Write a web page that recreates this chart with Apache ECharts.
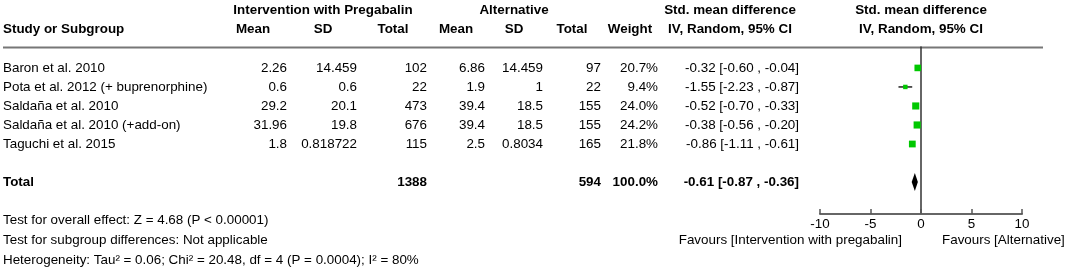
<!DOCTYPE html>
<html>
<head>
<meta charset="utf-8">
<script src="https://cdn.jsdelivr.net/npm/echarts@6/dist/echarts.min.js"></script>
<style>
html, body { margin: 0; padding: 0; background: #fff; }
#main { width: 1065px; height: 269px; }
</style>
</head>
<body>
<div id="main"></div>
<script>
var studies = ['Baron et al. 2010', 'Pota et al. 2012 (+ buprenorphine)', 'Saldaña et al. 2010',
               'Saldaña et al. 2010 (+add-on)', 'Taguchi et al. 2015'];
var intMean = [2.26, 0.6, 29.2, 31.96, 1.8];
var intSD = [14.459, 0.6, 20.1, 19.8, 0.818722];
var intTotal = [102, 22, 473, 676, 115];
var altMean = [6.86, 1.9, 39.4, 39.4, 2.5];
var altSD = [14.459, 1, 18.5, 18.5, 0.8034];
var altTotal = [97, 22, 155, 155, 165];
var weight = [20.7, 9.4, 24.0, 24.2, 21.8];
var smd = [-0.32, -1.55, -0.52, -0.38, -0.86];
var ciLo = [-0.60, -2.23, -0.70, -0.56, -1.11];
var ciHi = [-0.04, -0.87, -0.33, -0.20, -0.61];
// pooled result
var totalInt = 1388, totalAlt = 594, totalWeight = 100.0;
var totalSmd = -0.61, totalLo = -0.87, totalHi = -0.36;
var totalRow = 6;
var xTicks = [-10, -5, 0, 5, 10];

var font = '"Liberation Sans", Arial, sans-serif';
var fs = 13.4;
var chart = echarts.init(document.getElementById('main'));

var ciData = smd.map(function (v, i) { return [ciLo[i], ciHi[i], i]; });
var pointData = smd.map(function (v, i) { return [v, i, weight[i]]; });

option = {
    animation: false,
    grid: { left: 820, width: 202, top: 47, height: 167 },
    xAxis: {
        type: 'value', min: xTicks[0], max: xTicks[xTicks.length - 1], interval: 5,
        axisLine: { onZero: false, lineStyle: { color: '#666', width: 2 } },
        axisTick: { inside: true, length: 5, lineStyle: { color: '#555', width: 1.5 } },
        axisLabel: { color: '#000', fontSize: fs, fontFamily: font, margin: 4 },
        splitLine: { show: false }
    },
    yAxis: {
        type: 'value', inverse: true, min: -1.1, max: 7.68,
        axisLine: { show: true, onZero: true, lineStyle: { color: '#333', width: 1.5 } },
        axisTick: { show: false }, axisLabel: { show: false }, splitLine: { show: false }
    },
    series: [
        {
            type: 'custom',
            data: ciData,
            renderItem: function (params, api) {
                var a = api.coord([api.value(0), api.value(2)]);
                var b = api.coord([api.value(1), api.value(2)]);
                return { type: 'line', shape: { x1: a[0], y1: a[1], x2: b[0], y2: b[1] },
                         style: { stroke: '#222', lineWidth: 1.5 } };
            }
        },
        {
            type: 'scatter',
            symbol: 'rect',
            data: pointData,
            symbolSize: function (d) { return Math.sqrt(d[2]) * 1.45; },
            itemStyle: { color: '#00c800', opacity: 1 }
        },
        {
            type: 'custom',
            data: [[totalLo, totalSmd, totalHi, totalRow]],
            renderItem: function (params, api) {
                var l = api.coord([api.value(0), api.value(3)]);
                var c = api.coord([api.value(1), api.value(3)]);
                var r = api.coord([api.value(2), api.value(3)]);
                return { type: 'polygon',
                         shape: { points: [[l[0] - 0.5, l[1]], [c[0], l[1] - 9], [r[0] + 0.5, r[1]], [c[0], l[1] + 9]] },
                         style: { fill: '#000' } };
            }
        }
    ]
};
chart.setOption(option);

function rowY(i) { return chart.convertToPixel({ gridIndex: 0 }, [0, i])[1]; }

var g = [];
function txt(x, y, s, align, bold) {
    g.push({ type: 'text', x: x, y: y,
             style: { text: s, fill: '#000', font: (bold ? 'bold ' : '') + fs + 'px ' + font,
                      textAlign: align, textVerticalAlign: 'middle' } });
}
// header
txt(323, 10, 'Intervention with Pregabalin', 'center', true);
txt(514, 10, 'Alternative', 'center', true);
txt(730, 10, 'Std. mean difference', 'center', true);
txt(921, 10, 'Std. mean difference', 'center', true);
txt(3, 29, 'Study or Subgroup', 'left', true);
txt(253, 29, 'Mean', 'center', true);
txt(323, 29, 'SD', 'center', true);
txt(393, 29, 'Total', 'center', true);
txt(456, 29, 'Mean', 'center', true);
txt(514, 29, 'SD', 'center', true);
txt(572, 29, 'Total', 'center', true);
txt(630, 29, 'Weight', 'center', true);
txt(730, 29, 'IV, Random, 95% CI', 'center', true);
txt(921, 29, 'IV, Random, 95% CI', 'center', true);
g.push({ type: 'line', shape: { x1: 3, y1: 47.5, x2: 1043, y2: 47.5 },
         style: { stroke: '#777', lineWidth: 2 } });

studies.forEach(function (s, i) {
    var y = rowY(i);
    txt(3, y, s, 'left');
    txt(287, y, String(intMean[i]), 'right');
    txt(357, y, String(intSD[i]), 'right');
    txt(427, y, String(intTotal[i]), 'right');
    txt(485, y, String(altMean[i]), 'right');
    txt(543, y, String(altSD[i]), 'right');
    txt(601, y, String(altTotal[i]), 'right');
    txt(658, y, weight[i].toFixed(1) + '%', 'right');
    txt(799, y, smd[i].toFixed(2) + ' [' + ciLo[i].toFixed(2) + ' , ' + ciHi[i].toFixed(2) + ']', 'right');
});
var ty = rowY(totalRow);
txt(3, ty, 'Total', 'left', true);
txt(427, ty, String(totalInt), 'right', true);
txt(601, ty, String(totalAlt), 'right', true);
txt(658, ty, totalWeight.toFixed(1) + '%', 'right', true);
txt(799, ty, totalSmd.toFixed(2) + ' [' + totalLo.toFixed(2) + ' , ' + totalHi.toFixed(2) + ']', 'right', true);

// footnotes
txt(3, 220, 'Test for overall effect: Z = 4.68 (P < 0.00001)', 'left');
txt(3, 240, 'Test for subgroup differences: Not applicable', 'left');
txt(3, 260, 'Heterogeneity: Tau² = 0.06; Chi² = 20.48, df = 4 (P = 0.0004); I² = 80%', 'left');
txt(902, 240, 'Favours [Intervention with pregabalin]', 'right');
txt(942, 240, 'Favours [Alternative]', 'left');

chart.setOption({ graphic: g });
</script>
</body>
</html>
